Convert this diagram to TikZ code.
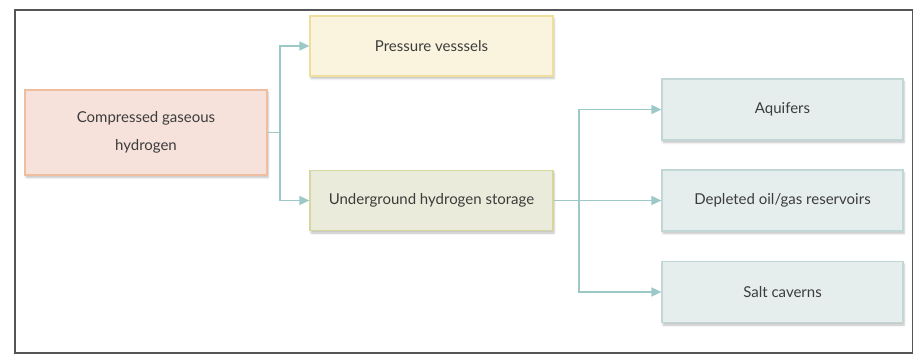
\documentclass[tikz,border=0pt]{standalone}
\usepackage{fontspec}
\setmainfont{Lato}
\usetikzlibrary{arrows.meta,shadows.blur}
\definecolor{framegray}{HTML}{555555}
\definecolor{textgray}{HTML}{3C3C3C}
\definecolor{linkteal}{HTML}{9CC9C8}
\definecolor{rosefill}{HTML}{F6E2DB}
\definecolor{rosedraw}{HTML}{EFBE9E}
\definecolor{creamfill}{HTML}{FAF3DD}
\definecolor{creamdraw}{HTML}{EEDF9E}
\definecolor{olivefill}{HTML}{EBEBDB}
\definecolor{olivedraw}{HTML}{D6D69E}
\definecolor{tealfill}{HTML}{E5EEED}
\definecolor{tealdraw}{HTML}{C0D7D5}
\tikzset{
  box/.style={rectangle, line width=1.2pt, align=center, text=textgray,
    font=\fontsize{15}{28}\selectfont,
    blur shadow={shadow xshift=1pt, shadow yshift=-2.5pt, shadow blur steps=5, shadow opacity=25}},
  rosebox/.style={box, fill=rosefill, draw=rosedraw, minimum width=242pt, minimum height=85pt},
  creambox/.style={box, fill=creamfill, draw=creamdraw, minimum width=243pt, minimum height=60pt},
  olivebox/.style={box, fill=olivefill, draw=olivedraw, minimum width=243pt, minimum height=60pt},
  tealbox/.style={box, fill=tealfill, draw=tealdraw, minimum width=241pt, minimum height=61pt},
  link/.style={draw=linkteal, line width=1.6pt},
  arr/.style={link, -{Triangle[length=10pt,width=9pt]}},
}
\begin{document}
\begin{tikzpicture}[x=1pt,y=-1pt]
  \useasboundingbox (0,0) rectangle (923,361);
  % outer frame
  \draw[framegray, line width=1.1pt] (15,10) rectangle (912.5,353);

  % boxes
  \node[rosebox]  (comp) at (146,132.5)   {Compressed gaseous\\hydrogen};
  \node[creambox] (pv)   at (431.5,46)    {Pressure vesssels};
  \node[olivebox] (ug)   at (431.5,200.5) {Underground hydrogen storage};
  \node[tealbox]  (aq)   at (782.5,109.5) {Aquifers};
  \node[tealbox]  (dep)  at (782.5,200.5) {Depleted oil/gas reservoirs};
  \node[tealbox]  (salt) at (782.5,292)   {Salt caverns};

  % branch points
  \coordinate (t1) at (280,132.5);
  \coordinate (t2) at (579,200.5);

  % connectors
  \draw[link] (comp.east) -- (t1);
  \draw[arr] (t1) |- (pv.west);
  \draw[arr] (t1) |- (ug.west);
  \draw[arr] (ug.east) -- (dep.west);
  \draw[arr] (t2) |- (aq.west);
  \draw[arr] (t2) |- (salt.west);
\end{tikzpicture}
\end{document}
